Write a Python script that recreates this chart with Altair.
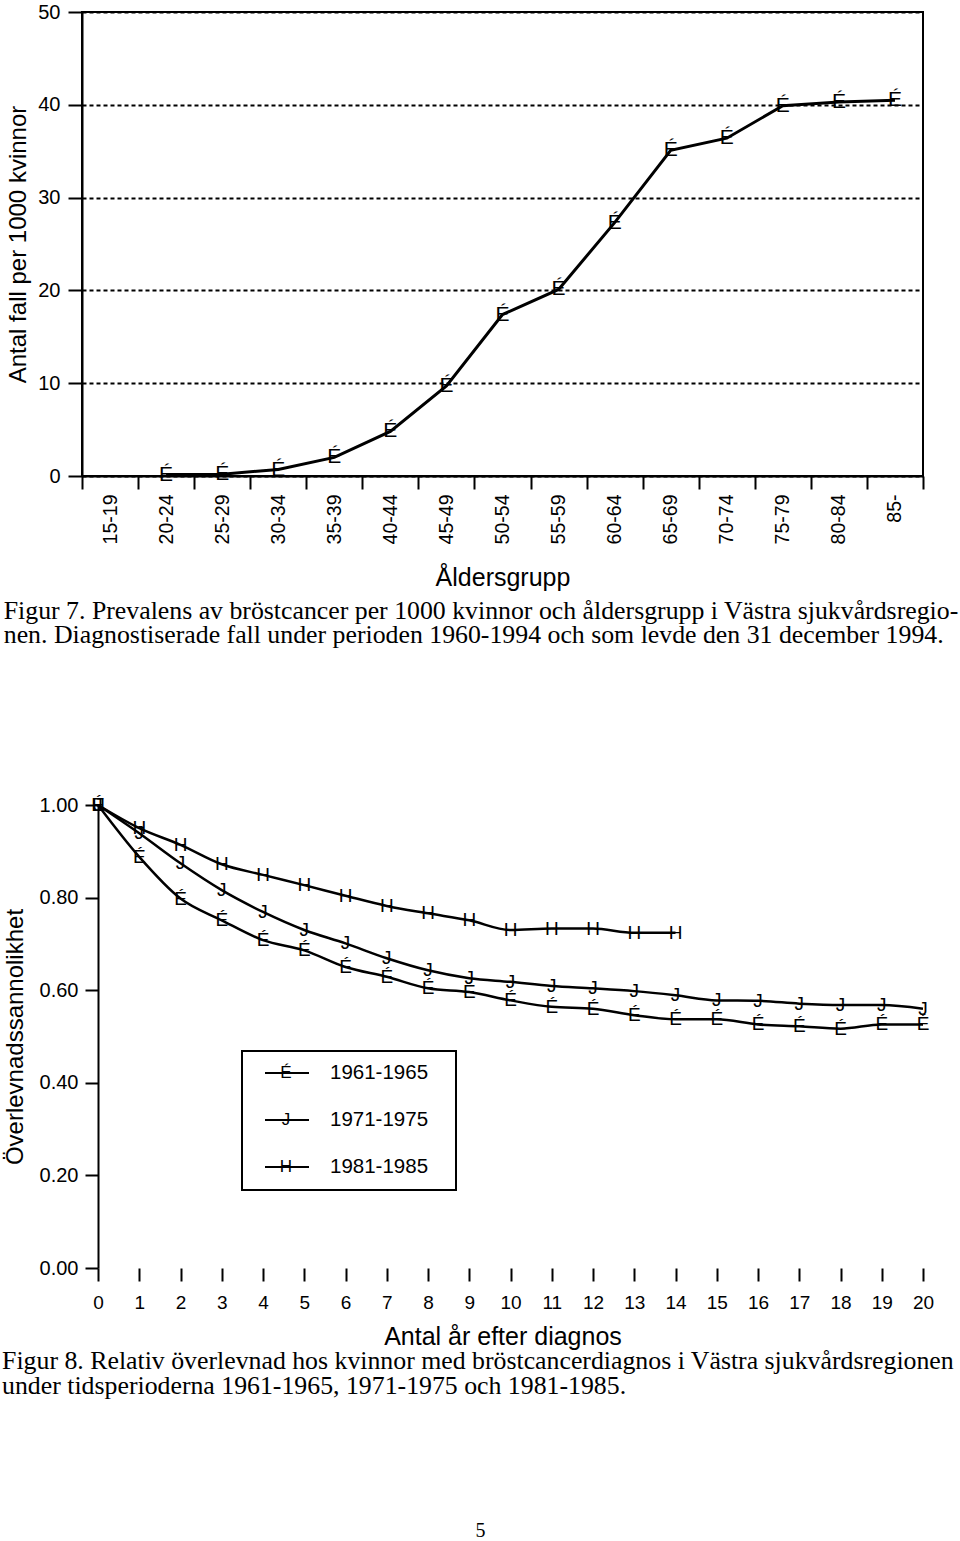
import altair as alt
import pandas as pd

# ---------------- data ----------------
age_groups = ["15-19", "20-24", "25-29", "30-34", "35-39", "40-44", "45-49",
              "50-54", "55-59", "60-64", "65-69", "70-74", "75-79", "80-84", "85-"]
prev_groups = age_groups[1:]
prevalence = [0.15, 0.2, 0.7, 2.0, 4.8, 9.7, 17.4, 20.1, 27.3, 35.1, 36.4, 39.9, 40.3, 40.5]
prev_ticks = [0, 10, 20, 30, 40, 50]

years = list(range(21))
periods = ["1961-1965", "1971-1975", "1981-1985"]
glyphs = ["É", "J", "H"]
surv_1961 = [1.00, 0.888, 0.798, 0.751, 0.708, 0.686, 0.650, 0.629, 0.604, 0.596, 0.578,
             0.564, 0.560, 0.546, 0.537, 0.537, 0.526, 0.522, 0.517, 0.526, 0.526]
surv_1971 = [1.00, 0.939, 0.874, 0.816, 0.769, 0.730, 0.701, 0.669, 0.643, 0.626, 0.618,
             0.609, 0.604, 0.598, 0.589, 0.578, 0.577, 0.571, 0.568, 0.568, 0.560]
surv_1981 = [1.00, 0.950, 0.914, 0.872, 0.849, 0.827, 0.804, 0.782, 0.766, 0.751, 0.730,
             0.733, 0.733, 0.724, 0.724]
surv_ticks = [0.0, 0.2, 0.4, 0.6, 0.8, 1.0]

caption7 = ["Figur 7. Prevalens av bröstcancer per 1000 kvinnor och åldersgrupp i Västra sjukvårdsregio-",
            "nen. Diagnostiserade fall under perioden 1960-1994 och som levde den 31 december 1994."]
caption8 = ["Figur 8. Relativ överlevnad hos kvinnor med bröstcancerdiagnos i Västra sjukvårdsregionen",
            "under tidsperioderna 1961-1965, 1971-1975 och 1981-1985."]
page_number = "5"

SANS = "Liberation Sans"
SERIF = "Liberation Serif"

# ---------------- figure 7 ----------------
top_df = pd.DataFrame({"grupp": prev_groups, "varde": prevalence})
top_df["glyph"] = "É"

x_top = alt.X("grupp:N",
              scale=alt.Scale(type="band", domain=age_groups, paddingInner=0, paddingOuter=0),
              axis=alt.Axis(title="Åldersgrupp", labelAngle=-90, labelFontSize=19.5, labelPadding=5,
                            tickBand="extent", tickSize=13, titleFontSize=25, titlePadding=22,
                            grid=False, labelOverlap=False))
y_top = alt.Y("varde:Q", scale=alt.Scale(domain=[0, 50], nice=False),
              axis=alt.Axis(title="Antal fall per 1000 kvinnor", values=prev_ticks, format="d",
                            labelFontSize=20, labelPadding=8, tickSize=14, titleFontSize=24,
                            titlePadding=7, grid=True, gridDash=[4, 3], gridWidth=2,
                            gridColor="black"))

top_line = alt.Chart(top_df).mark_line(color="black", strokeWidth=3,
                                       interpolate="linear").encode(x=x_top, y=y_top)
top_pts = alt.Chart(top_df).mark_text(font=SANS, fontSize=21, color="black", baseline="middle",
                                      align="center").encode(x=x_top, y=y_top, text="glyph:N")

top = alt.layer(top_line, top_pts).properties(
    width=841, height=464,
    title=alt.TitleParams(caption7, orient="bottom", anchor="start", font=SERIF, fontSize=25.8,
                          fontWeight="normal", color="black", lineHeight=24, offset=8, dx=-3))

# ---------------- figure 8 ----------------
rows = []
for period, glyph, vals in zip(periods, glyphs, [surv_1961, surv_1971, surv_1981]):
    for t, v in zip(years, vals):
        rows.append({"period": period, "glyph": glyph, "ar": t, "andel": v})
surv_df = pd.DataFrame(rows)

# plot area of figure 8 starts 16 px left of year 0 (aligned with figure 7's frame)
PX_PER_YEAR = 825 / 20
LEFT_GAP = 16
x_bot = alt.X("ar:Q", scale=alt.Scale(domain=[-LEFT_GAP / PX_PER_YEAR, 20], nice=False, zero=False),
              axis=alt.Axis(title="Antal år efter diagnos", values=years, format="d", domain=False,
                            labelFontSize=19, labelPadding=12, tickSize=13, titleFontSize=25,
                            titlePadding=12, grid=False, labelFlush=False))
y_bot = alt.Y("andel:Q", scale=alt.Scale(domain=[0, 1], nice=False),
              axis=alt.Axis(title="Överlevnadssannolikhet", values=surv_ticks, format=".2f",
                            labelFontSize=20, labelPadding=7, tickSize=13, titleFontSize=24,
                            titlePadding=12, grid=False, offset=-LEFT_GAP))

one_df = pd.DataFrame({"k": [0]})
grid_df = pd.DataFrame({"andel": surv_ticks[1:-1]})

bot_grid = alt.Chart(grid_df).mark_rule(color="black", strokeWidth=2, strokeDash=[4, 3]).encode(
    y=alt.Y("andel:Q"), x=alt.datum(0), x2=alt.datum(20))
frame_top = alt.Chart(one_df).mark_rule(color="black", strokeWidth=2).encode(
    y=alt.datum(1), x=alt.datum(0), x2=alt.datum(20))
frame_bottom = alt.Chart(one_df).mark_rule(color="black", strokeWidth=2).encode(
    y=alt.datum(0), x=alt.datum(0), x2=alt.datum(20))
frame_right = alt.Chart(one_df).mark_rule(color="black", strokeWidth=2).encode(
    x=alt.datum(20), y=alt.datum(0), y2=alt.datum(1))

bot_lines = alt.Chart(surv_df).mark_line(color="black", strokeWidth=2.5,
                                         interpolate="monotone").encode(
    x=x_bot, y=y_bot, detail="period:N")
bot_pts = alt.Chart(surv_df).mark_text(font=SANS, fontSize=19, color="black", baseline="middle",
                                       align="center").encode(x=x_bot, y=y_bot, text="glyph:N")

# legend (drawn inside the plot area, pixel offsets from plot origin)
LX = LEFT_GAP
legend_layers = [
    alt.Chart(one_df).mark_rect(fill="white", stroke="black", strokeWidth=2).encode(
        x=alt.value(LX + 144), x2=alt.value(LX + 358), y=alt.value(246), y2=alt.value(385))
]
for i, (period, glyph) in enumerate(zip(periods, glyphs)):
    row_df = pd.DataFrame({"period": [period], "glyph": [glyph]})
    yy = 268 + 47 * i
    legend_layers.append(alt.Chart(row_df).mark_rule(color="black", strokeWidth=2).encode(
        x=alt.value(LX + 167), x2=alt.value(LX + 211), y=alt.value(yy)))
    legend_layers.append(alt.Chart(row_df).mark_text(font=SANS, fontSize=17, color="black",
                                                     baseline="middle", align="center").encode(
        x=alt.value(LX + 188), y=alt.value(yy), text="glyph:N"))
    legend_layers.append(alt.Chart(row_df).mark_text(font=SANS, fontSize=20.5, color="black",
                                                     baseline="middle", align="left").encode(
        x=alt.value(LX + 232), y=alt.value(yy), text="period:N"))

bottom = alt.layer(bot_grid, *legend_layers, bot_lines, bot_pts,
                   frame_top, frame_bottom, frame_right).encode(
    x=x_bot, y=y_bot
).properties(
    width=841, height=463,
    view=alt.ViewBackground(stroke="transparent"),
    title=alt.TitleParams(caption8, orient="bottom", anchor="start", font=SERIF, fontSize=25.8,
                          fontWeight="normal", color="black", lineHeight=25, offset=0, dx=-1))

chart = alt.concat(
    top, bottom, columns=1, spacing=145,
    title=alt.TitleParams(page_number, orient="bottom", anchor="middle", font=SERIF, fontSize=20,
                          fontWeight="normal", color="black", offset=121)
).properties(
    padding={"left": 1, "top": 1, "right": 0, "bottom": 0}
).configure(background="white").configure_view(
    stroke="black", strokeWidth=2
).configure_axis(
    domainColor="black", domainWidth=2, tickColor="black", tickWidth=2,
    labelColor="black", titleColor="black", labelFont=SANS, titleFont=SANS,
    titleFontWeight="normal"
)

chart.save("out.html", embed_options={"renderer": "svg", "actions": False})
